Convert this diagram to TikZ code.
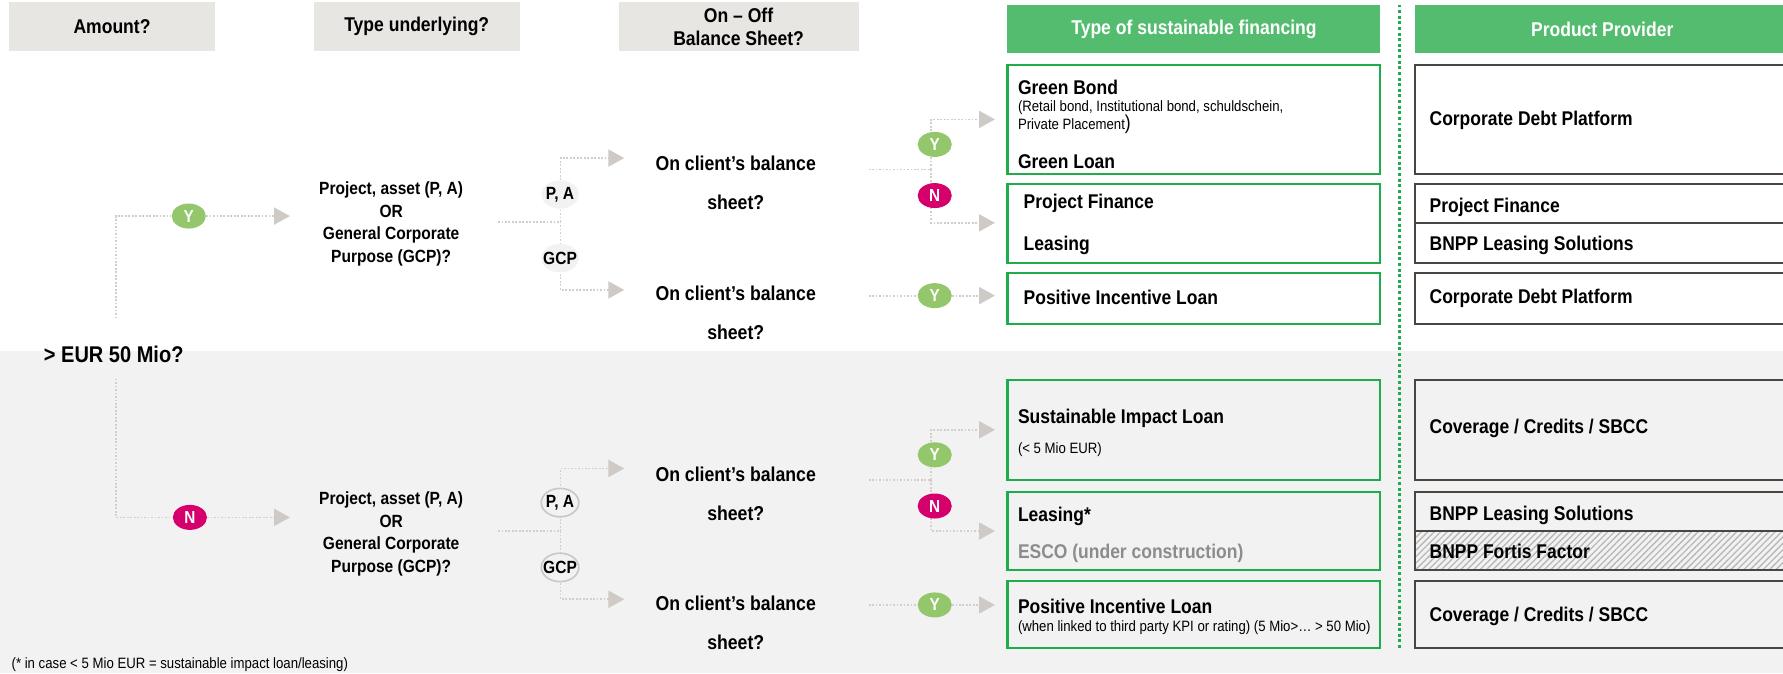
\documentclass[tikz,border=0pt]{standalone}
\usepackage{fontspec}
\setmainfont{Liberation Sans}[FakeStretch=0.88]
\usepackage{xcolor}
\usetikzlibrary{shapes,arrows,positioning,calc,patterns.meta,arrows.meta}

\definecolor{bandgrey}{HTML}{F2F2F2}
\definecolor{headgrey}{HTML}{E8E6E3}
\definecolor{headgreen}{HTML}{54BC6F}
\definecolor{boxgreen}{HTML}{1FAD4B}
\definecolor{boxdark}{HTML}{4A4541}
\definecolor{dotgrey}{HTML}{D2CFCB}
\definecolor{tipgrey}{HTML}{CFCAC5}
\definecolor{pillY}{HTML}{94C66C}
\definecolor{pillN}{HTML}{D6006C}

\newcommand{\ux}{0.85pt}

\tikzset{
  headbox/.style={rectangle, fill=headgrey, font=\fontsize{14.9}{17.5}\selectfont\bfseries, align=center, inner sep=0pt, outer sep=0pt, anchor=north west},
  greenhead/.style={headbox, fill=headgreen, text=white},
  finbox/.style={rectangle, draw=boxgreen, line width=1.5pt, minimum width=328*\ux, inner sep=0pt, outer sep=0pt, anchor=north west},
  provbox/.style={rectangle, draw=boxdark, line width=1.5pt, minimum width=340*\ux, inner sep=0pt, outer sep=0pt, anchor=north west},
  pill/.style={ellipse, inner sep=0pt, minimum width=30*\ux, minimum height=22*\ux, text=white, font=\fontsize{13}{14}\selectfont\bfseries},
  pillyes/.style={pill, fill=pillY},
  pillno/.style={pill, fill=pillN},
  branchbare/.style={ellipse, inner sep=0pt, minimum width=33*\ux, minimum height=25*\ux, fill=bandgrey, font=\fontsize{13.2}{14}\selectfont\bfseries},
  branchring/.style={branchbare, draw=black!22, line width=1.2pt},
  dotline/.style={draw=dotgrey, line width=1.3pt, dash pattern=on 1.3pt off 1.3pt},
  dotarrow/.style={dotline, -{Triangle[length=14*\ux, width=15*\ux, fill=tipgrey, color=tipgrey]}},
  question/.style={align=center, inner sep=0pt, font=\fontsize{13.2}{17}\selectfont\bfseries},
  balance/.style={align=center, inner sep=0pt, font=\fontsize{15}{28.9}\selectfont\bfseries},
  mainlbl/.style={anchor=west, inner sep=0pt, text height=12.5pt, text depth=1.5pt, font=\fontsize{14.85}{16}\selectfont\bfseries},
  sublbl/.style={anchor=west, inner sep=0pt, text height=8pt, text depth=0pt, font=\fontsize{11.2}{11}\selectfont},
}

\begin{document}
\begin{tikzpicture}[x=0.85pt,y=-0.85pt]
    \path[use as bounding box,clip] (0,0) rectangle (1568,592);

    % Lower band
    \fill[bandgrey] (0,309) rectangle (1568,592);

    % Column heads
    \node[headbox, minimum width=181*\ux, minimum height=43*\ux] (hamount) at (8,2) {Amount?};
    \node[headbox, minimum width=181*\ux, minimum height=43*\ux] (htype) at (276,2) {Type underlying?};
    \node[headbox, minimum width=211*\ux, minimum height=43*\ux] (honoff) at (544,2) {On -- Off\\Balance Sheet?};
    \node[greenhead, minimum width=328*\ux, minimum height=43*\ux] (hfin) at (886,4) {Type of sustainable financing};
    \node[greenhead, minimum width=330*\ux, minimum height=43*\ux] (hprov) at (1244,4) {Product Provider};

    % Separator
    \coordinate (septop) at (1231,4);
    \coordinate (sepbot) at (1231,570);
    \draw[boxgreen, line width=2.2pt, dash pattern=on 2.2pt off 2pt] (septop) -- (sepbot);

    % Financing boxes
    \node[finbox, minimum height=96*\ux] (fbond) at (886,57) {};
    \node[finbox, minimum height=69*\ux] (fproj) at (886,162) {};
    \node[finbox, minimum height=45*\ux] (fpos) at (886,240) {};
    \node[finbox, minimum height=88*\ux] (fimpact) at (886,334) {};
    \node[finbox, minimum height=68*\ux] (flease) at (886,433) {};
    \node[finbox, minimum height=59*\ux] (fposb) at (886,511) {};

    % Provider boxes
    \node[provbox, minimum height=96*\ux] (pdebt) at (1244,57) {};
    \node[provbox, minimum height=34.5*\ux] (ppf) at (1244,162) {};
    \node[provbox, minimum height=34.5*\ux] (pbnp) at (1244,196.5) {};
    \node[provbox, minimum height=45*\ux] (pdebtb) at (1244,240) {};
    \node[provbox, minimum height=88*\ux] (pcov) at (1244,334) {};
    \node[provbox, minimum height=34*\ux] (pbnpb) at (1244,433) {};
    \node[provbox, minimum height=34*\ux, pattern={Lines[angle=45,distance=3.4pt,line width=1pt]}, pattern color=black!28] (pfort) at (1244,467) {};
    \node[provbox, minimum height=59*\ux] (pcovb) at (1244,511) {};

    % Financing texts
    \node[mainlbl] (tbond) at (895,77) {Green Bond};
    \node[sublbl] (tretail) at (895,93) {(Retail bond, Institutional bond, schuldschein,};
    \node[sublbl] (tpriv) at (895,109) {Private Placement{\fontsize{15}{13}\selectfont)}};
    \node[mainlbl] (tloan) at (895,142) {Green Loan};
    \node[mainlbl] (tpf) at (900,177) {Project Finance};
    \node[mainlbl] (tlease) at (900,214) {Leasing};
    \node[mainlbl] (tpos) at (900,261) {Positive Incentive Loan};
    \node[mainlbl] (timpact) at (895,366) {Sustainable Impact Loan};
    \node[sublbl] (tmio) at (895,394) {(< 5 Mio EUR)};
    \node[mainlbl] (tleaseb) at (895,452) {Leasing*};
    \node[mainlbl, text=black!45] (tesco) at (895,485) {ESCO (under construction)};
    \node[mainlbl] (tposb) at (895,533) {Positive Incentive Loan};
    \node[sublbl] (tkpi) at (895,551) {(when linked to third party KPI or rating) (5 Mio>… > 50 Mio)};

    % Provider texts
    \node[mainlbl] (tdebt) at (1257,104) {Corporate Debt Platform};
    \node[mainlbl] (tppf) at (1257,180) {Project Finance};
    \node[mainlbl] (tbnp) at (1257,214) {BNPP Leasing Solutions};
    \node[mainlbl] (tdebtb) at (1257,260) {Corporate Debt Platform};
    \node[mainlbl] (tcov) at (1257,375) {Coverage / Credits / SBCC};
    \node[mainlbl] (tbnpb) at (1257,451) {BNPP Leasing Solutions};
    \node[mainlbl] (tfort) at (1257,485) {BNPP Fortis Factor};
    \node[mainlbl] (tcovb) at (1257,540) {Coverage / Credits / SBCC};

    % Start of the tree
    \node[inner sep=0pt, font=\fontsize{17}{19}\selectfont\bfseries] (eur) at (100,312) {> EUR 50 Mio?};
    \coordinate (eurup) at (102,280);
    \coordinate (eurdown) at (102,333);
    \node[pillyes] (yamount) at (166,190) {Y};
    \node[pillno] (namount) at (167,455) {N};
    \coordinate (qtop) at (255,190);
    \coordinate (qbot) at (255,455);
    \draw[dotline] (eurup) |- (yamount);
    \draw[dotarrow] (yamount) -- (qtop);
    \draw[dotline] (eurdown) |- (namount);
    \draw[dotarrow] (namount) -- (qbot);

    % Underlying questions
    \node[question] (qupper) at (344,197) {Project, asset (P, A)\\OR\\General Corporate\\Purpose (GCP)?};
    \node[question] (qlower) at (344,469.5) {Project, asset (P, A)\\OR\\General Corporate\\Purpose (GCP)?};

    % Balance sheet questions
    \node[balance] (b1) at (647,161) {On client’s balance\\sheet?};
    \node[balance] (b2) at (647,275) {On client’s balance\\sheet?};
    \node[balance] (b3) at (647,434) {On client’s balance\\sheet?};
    \node[balance] (b4) at (647,548) {On client’s balance\\sheet?};

    % Upper split after the question
    \coordinate (s1a) at (438,195);
    \coordinate (s1b) at (493,195);
    \coordinate (s1t) at (549,139);
    \coordinate (s1u) at (549,255);
    \draw[dotline] (s1a) -- (s1b);
    \draw[dotarrow] (s1b) |- (s1t);
    \draw[dotarrow] (s1b) |- (s1u);
    \node[branchbare] (pa1) at (492.5,171) {\makebox[0pt]{P, A}};
    \node[branchbare] (gcp1) at (492.5,227) {\makebox[0pt]{GCP}};

    % Lower split after the question
    \coordinate (s2a) at (438,467);
    \coordinate (s2b) at (493,467);
    \coordinate (s2t) at (549,412);
    \coordinate (s2u) at (549,527);
    \draw[dotline] (s2a) -- (s2b);
    \draw[dotarrow] (s2b) |- (s2t);
    \draw[dotarrow] (s2b) |- (s2u);
    \node[branchring] (pa2) at (492.5,442) {\makebox[0pt]{P, A}};
    \node[branchring] (gcp2) at (492.5,499) {\makebox[0pt]{GCP}};

    % Upper outcome paths
    \coordinate (o1a) at (764,149);
    \coordinate (o1b) at (819,149);
    \coordinate (o1t) at (875,105);
    \coordinate (o1u) at (875,196);
    \draw[dotline] (o1a) -- (o1b);
    \draw[dotarrow] (o1b) |- (o1t);
    \draw[dotarrow] (o1b) |- (o1u);
    \node[pillyes] (y1) at (822,127) {Y};
    \node[pillno] (n1) at (822,172) {N};
    \coordinate (o2a) at (764,260);
    \coordinate (o2t) at (875,260);
    \node[pillyes] (y2) at (822,260) {Y};
    \draw[dotline] (o2a) -- (y2);
    \draw[dotarrow] (y2) -- (o2t);

    % Lower outcome paths
    \coordinate (o3a) at (764,422);
    \coordinate (o3b) at (819,422);
    \coordinate (o3t) at (875,378);
    \coordinate (o3u) at (875,467);
    \draw[dotline] (o3a) -- (o3b);
    \draw[dotarrow] (o3b) |- (o3t);
    \draw[dotarrow] (o3b) |- (o3u);
    \node[pillyes] (y3) at (822,400) {Y};
    \node[pillno] (n3) at (822,445) {N};
    \coordinate (o4a) at (764,532);
    \coordinate (o4t) at (875,532);
    \node[pillyes] (y4) at (822,532) {Y};
    \draw[dotline] (o4a) -- (y4);
    \draw[dotarrow] (y4) -- (o4t);

    % Footnote
    \node[sublbl] (note) at (10,583) {(* in case < 5 Mio EUR = sustainable impact loan/leasing)};
\end{tikzpicture}
\end{document}
